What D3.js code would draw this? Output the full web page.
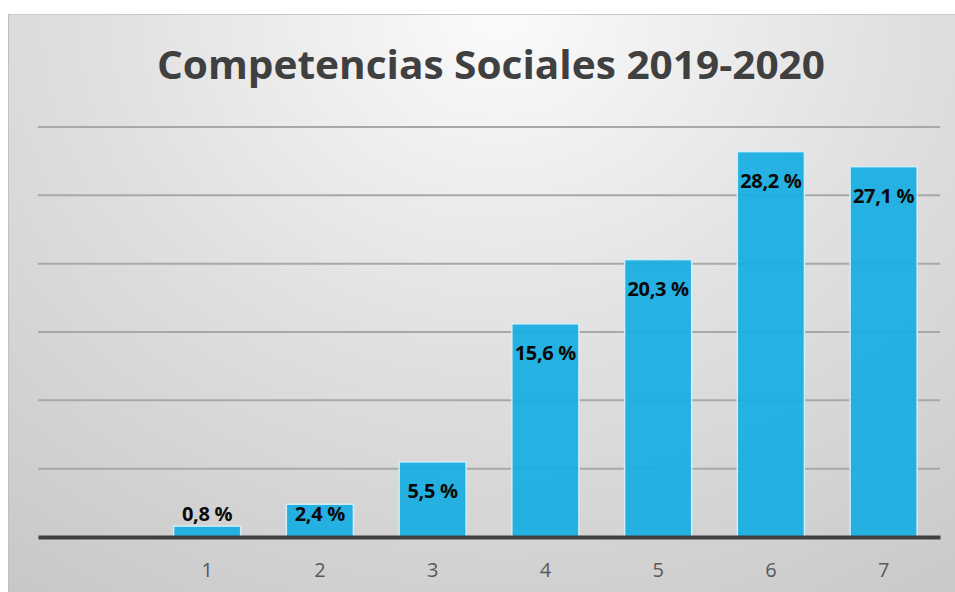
<!DOCTYPE html>
<html>
<head>
<meta charset="utf-8">
<script src="https://cdn.jsdelivr.net/npm/d3@7"></script>
<style>
  html, body { margin: 0; padding: 0; background: #fff; }
  svg { display: block; }
</style>
</head>
<body>
<svg width="955" height="592"></svg>
<script>
var categories = ["", "1", "2", "3", "4", "5", "6", "7"];
var values = [null, 0.8, 2.4, 5.5, 15.6, 20.3, 28.2, 27.1];
var gridTicks = [5, 10, 15, 20, 25, 30];
var title = "Competencias Sociales 2019-2020";

function fmt(v) {
  return v.toFixed(1).replace(".", ",") + " %";
}

function main() {
  var svg = d3.select("svg");
  var margin = {top: 127, right: 15, bottom: 55, left: 38};
  var width = 955 - margin.left - margin.right;
  var height = 592 - margin.top - margin.bottom;

  // background
  var defs = svg.append("defs");
  var grad = defs.append("radialGradient").attr("id", "bg")
    .attr("cx", "52%").attr("cy", "0%").attr("r", "95%")
    .attr("gradientTransform", "translate(0.52,0) scale(1,1.4) translate(-0.52,0)");
  grad.append("stop").attr("offset", "0%").attr("stop-color", "#fbfbfb");
  grad.append("stop").attr("offset", "45%").attr("stop-color", "#e0e0e0");
  grad.append("stop").attr("offset", "100%").attr("stop-color", "#c4c4c4");

  svg.append("rect").attr("x", 8).attr("y", 14).attr("width", 947).attr("height", 578)
    .attr("fill", "url(#bg)");
  svg.append("line").attr("x1", 8).attr("x2", 955).attr("y1", 14.5).attr("y2", 14.5)
    .attr("stroke", "#c8c8c8").attr("stroke-width", 1);
  svg.append("line").attr("x1", 8.5).attr("x2", 8.5).attr("y1", 14).attr("y2", 592)
    .attr("stroke", "#c0c0c0").attr("stroke-width", 1);

  // title
  svg.append("text").attr("x", 491).attr("y", 79)
    .attr("text-anchor", "middle")
    .attr("font-family", "'Open Sans', sans-serif")
    .attr("font-weight", "bold").attr("font-size", 40)
    .attr("fill", "#404040")
    .attr("textLength", 668).attr("lengthAdjust", "spacingAndGlyphs")
    .text(title);

  var canvas = svg.append("g")
    .attr("transform", "translate(" + margin.left + "," + margin.top + ")");

  var xScale = d3.scaleBand().domain(categories).range([0, width]).paddingInner(0.405).paddingOuter(0.2025);
  var yScale = d3.scaleLinear().domain([0, 30]).range([height, 0]);

  // gridlines
  canvas.selectAll(".grid").data(gridTicks).enter().append("line")
    .attr("x1", 0).attr("x2", width)
    .attr("y1", d => yScale(d)).attr("y2", d => yScale(d))
    .attr("stroke", "#a8a8a8").attr("stroke-width", 2);

  var data = categories.map((c, i) => ({cat: c, v: values[i]})).filter(d => d.v != null);

  // bars
  canvas.selectAll(".bar").data(data).enter().append("rect")
    .attr("x", d => xScale(d.cat))
    .attr("y", d => yScale(d.v))
    .attr("width", xScale.bandwidth())
    .attr("height", d => height - yScale(d.v))
    .attr("fill", "#17ade2").attr("fill-opacity", 0.93)
    .attr("stroke", "#d4eef8").attr("stroke-width", 1.5);

  // baseline axis
  var xAxis = d3.axisBottom(xScale).tickSize(0).tickPadding(26);
  var gx = canvas.append("g").attr("transform", "translate(0," + height + ")").call(xAxis);
  gx.select(".domain").attr("stroke", "#404040").attr("stroke-width", 4);
  gx.selectAll("text")
    .attr("font-family", "'Open Sans', sans-serif")
    .attr("font-size", 20).attr("fill", "#595959");

  // data labels
  canvas.selectAll(".lbl").data(data).enter().append("text")
    .attr("x", d => xScale(d.cat) + xScale.bandwidth() / 2)
    .attr("y", d => Math.min(yScale(d.v) + 29, height - 23))
    .attr("dy", "0.35em")
    .attr("text-anchor", "middle")
    .attr("font-family", "'Open Sans', sans-serif")
    .attr("font-weight", "bold").attr("font-size", 20)
    .attr("letter-spacing", "-0.3")
    .attr("fill", "#0a0a0a")
    .text(d => fmt(d.v));
}

window.onload = function() {
  main();
};
</script>
</body>
</html>
